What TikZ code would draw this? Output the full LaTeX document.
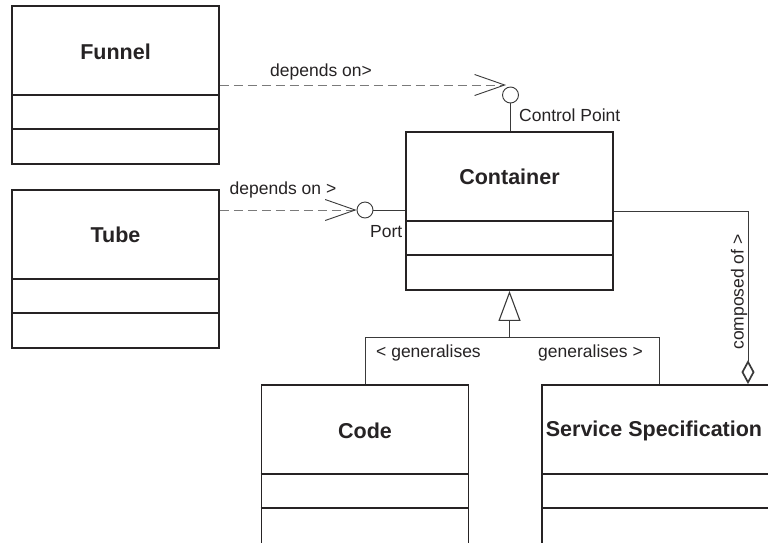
\documentclass[tikz,border=0pt]{standalone}
\usepackage{fontspec}
\setmainfont{Liberation Sans}
\usetikzlibrary{arrows.meta}
\definecolor{ink}{HTML}{262324}
\definecolor{wire}{HTML}{3A3A3A}
\definecolor{dashgray}{HTML}{7A7A7A}
\begin{document}
\begin{tikzpicture}[x=1pt,y=-1pt,
  classbox/.style={draw=ink,line width=1.8pt,rectangle,inner sep=0pt,minimum width=207pt,minimum height=158pt},
  classname/.style={inner sep=0pt,text=ink,font=\fontsize{21.5}{24}\selectfont\bfseries},
  lbl/.style={inner sep=0pt,text=ink,font=\fontsize{17.5}{20}\selectfont},
  divider/.style={draw=ink,line width=1.8pt},
  wireline/.style={draw=wire,line width=0.9pt},
  dep/.style={draw=dashgray,line width=0.9pt,dash pattern=on 9pt off 5pt,
     -{Straight Barb[length=30pt,width=21pt,color=wire,line width=0.9pt]}},
  portc/.style={draw=wire,line width=0.9pt,circle,inner sep=0pt,minimum size=16pt,fill=white},
  gen/.style={wireline,-{Triangle[open,length=30pt,width=22pt,line width=1.1pt]}},
  comp/.style={wireline,-{Diamond[open,length=24pt,width=13pt,line width=1.7pt]}}
]
\useasboundingbox (0,0) rectangle (768,542);
\fill[white] (0,0) rectangle (768,542);
\clip (0,0) rectangle (768,542);

% class boxes
\node[classbox] (funnel) at (115.5,85) {};
\node[classbox] (tube) at (115.5,269) {};
\node[classbox] (container) at (509.5,211) {};
\node[classbox,minimum height=164pt] (code) at (365,467) {};
\node[classbox,minimum width=234pt,minimum height=164pt] (svc) at (659,467) {};

% compartments
\foreach \b in {funnel,tube,container,code,svc}{
  \draw[divider] ([yshift=-90pt]\b.north west) -- ([yshift=-90pt]\b.north east);
  \draw[divider] ([yshift=-124pt]\b.north west) -- ([yshift=-124pt]\b.north east);
}

% class names
\node[classname] (funnelname) at (115.5,52) {Funnel};
\node[classname] (tubename) at (115.5,235) {Tube};
\node[classname] (containername) at (509.5,177) {Container};
\node[classname] (codename) at (365,431) {Code};
\node[classname] (svcname) at (654,431) {Service Specification};

% ports
\node[portc] (cp) at (510.5,95) {};
\node[portc] (port) at (365,210) {};
\coordinate (cptip) at (506,85);

% Funnel dependency
\draw[dep] (funnel.east) -- (cptip);
\node[lbl,anchor=base] (dep1) at (321,76) {depends on>};
\draw[wireline] (cp.south) -- (cp.south |- container.north);
\node[lbl,anchor=base west] (cplbl) at (519,121) {Control Point};

% Tube dependency
\draw[dep] (tube.north east |- port.west) -- (port.west);
\node[lbl,anchor=base] (dep2) at (283,194) {depends on >};
\draw[wireline] (port.east) -- (container.west |- port.east);
\node[lbl,anchor=base east] (portlbl) at (402.5,237) {Port};

% generalisation
\coordinate (genjoin) at (container.south |- 0,337);
\draw[wireline] (code.north) |- (genjoin);
\draw[wireline] (svc.north) |- (genjoin);
\draw[gen] (genjoin) -- (container.south);
\node[lbl,anchor=base west] (gl) at (376,357) {< generalises};
\node[lbl,anchor=base east] (gr) at (643,357) {generalises >};

% composition
\coordinate (compcorner) at (748,211);
\coordinate (compend) at (svc.north -| compcorner);
\draw[comp] (container.east) -- (compcorner) -- (compend);
\node[lbl,anchor=base,rotate=90] (complbl) at (743.5,292) {composed of >};
\end{tikzpicture}
\end{document}
